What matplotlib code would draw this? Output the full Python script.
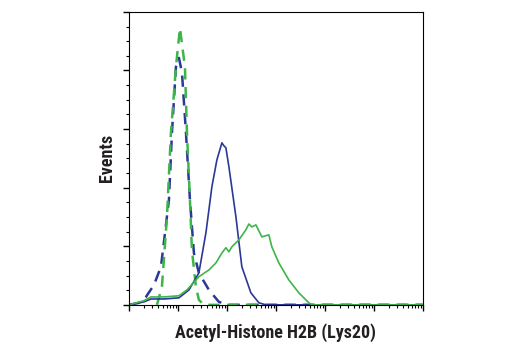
import matplotlib.pyplot as plt
import numpy as np
from matplotlib.ticker import MultipleLocator, LogLocator, NullFormatter

# fluorescence intensity (x) and event counts (y) for each histogram
ctrl_blue_x = [1, 1.6, 2.22, 3.24, 4.5, 6.55, 7.55, 9.1, 10.5, 12.1, 14.6, 17.6, 21.2, 26.8, 42.9, 68.7, 110, 1e6]
ctrl_blue_y = [0, 0.7, 2.7, 6.8, 13.0, 35.8, 58.7, 81.2, 84.3, 79.2, 58.7, 35.8, 17.7, 10.9, 5.1, 1.0, 0, 0]

ctrl_green_x = [3.73, 4.71, 5.97, 7.2, 9.1, 11.0, 13.9, 15.3, 17.6, 19.3, 23.3, 26.8, 34.0, 1e6]
ctrl_green_y = [0, 6.1, 30.0, 58.7, 81.2, 94.5, 81.2, 58.7, 35.8, 18.8, 6.1, 1.7, 0, 0]

blue_x = [1, 2.02, 2.81, 5.18, 10.5, 16.8, 26.8, 37.3, 49.4, 62.5, 79.1, 86.9, 95.4, 110, 153, 202, 309, 450, 625, 1e6]
blue_y = [0, 1.0, 2.0, 2.0, 2.4, 5.1, 10.9, 24.6, 40.3, 49.5, 55.3, 54.3, 53.6, 47.1, 30.0, 13.0, 4.1, 0.7, 0, 0]

green_x = [1, 2.02, 2.81, 5.18, 10.5, 15.3, 26.8, 42.9, 59.6, 79.1, 95.4, 110, 126, 176, 244, 281, 324, 391,
           518, 719, 828, 1151, 1842, 2946, 4713, 5430, 1e6]
green_y = [0, 1.4, 2.7, 2.7, 3.1, 5.1, 9.6, 11.9, 14.3, 17.7, 19.5, 18.1, 19.8, 22.2, 25.6, 27.6, 26.6, 27.3,
           23.2, 23.9, 19.8, 14.3, 8.5, 4.1, 0.7, 0, 0]

blue = '#2b3896'
green = '#3db54a'
label_font = ['Roboto Condensed', 'DejaVu Sans']

fig = plt.figure(figsize=(5.2, 3.5), dpi=100)
ax = fig.add_axes([0.248, 0.129, 0.565, 0.837])

ax.plot(ctrl_blue_x, ctrl_blue_y, color=blue, lw=1.8, dashes=(4.5, 3))
ax.plot(ctrl_green_x, ctrl_green_y, color=green, lw=1.8, dashes=(4.5, 3))
ax.plot(blue_x, blue_y, color=blue, lw=1.2)
ax.plot(green_x, green_y, color=green, lw=1.2)

ax.set_xscale('log')
ax.set_xlim(1, 1e6)
ax.set_ylim(0, 100)
ax.xaxis.set_major_locator(LogLocator(base=10, numticks=10))
ax.xaxis.set_minor_locator(LogLocator(base=10, subs=np.arange(2, 10), numticks=10))
ax.xaxis.set_major_formatter(NullFormatter())
ax.xaxis.set_minor_formatter(NullFormatter())
ax.yaxis.set_major_locator(MultipleLocator(20))
ax.yaxis.set_minor_locator(MultipleLocator(5))
ax.yaxis.set_major_formatter(NullFormatter())

ax.tick_params(which='major', direction='out', length=4.5, width=1)
ax.tick_params(which='minor', direction='out', length=2.5, width=0.8)
for s in ax.spines.values():
    s.set_linewidth(0.8)

ax.set_xlabel('Acetyl-Histone H2B (Lys20)', family=label_font,
              fontweight='bold', fontsize=13, color='#231f20', labelpad=5)
ax.set_ylabel('Events', family=label_font,
              fontweight='bold', fontsize=13, color='#231f20', labelpad=1.5)

fig.savefig('out.png', dpi=100)
